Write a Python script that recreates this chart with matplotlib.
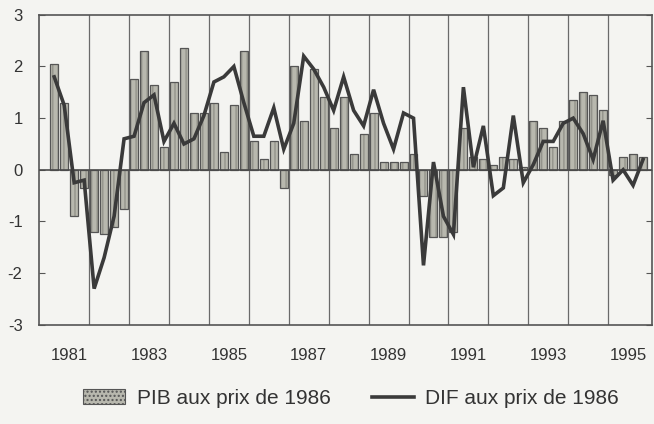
import numpy as np
import matplotlib.pyplot as plt
from matplotlib.patches import Patch
from matplotlib.lines import Line2D

plt.rcParams['font.family'] = ['Liberation Sans', 'DejaVu Sans']

years = list(range(1981, 1996))
year_labels = ['1981', '1983', '1985', '1987', '1989', '1991', '1993', '1995']

# croissance trimestrielle (%), 1981T1 - 1995T4
pib = [2.05, 1.3, -0.9, -0.35,
       -1.2, -1.25, -1.1, -0.75,
       1.75, 2.3, 1.65, 0.45,
       1.7, 2.35, 1.1, 1.1,
       1.3, 0.35, 1.25, 2.3,
       0.55, 0.2, 0.55, -0.35,
       2.0, 0.95, 1.95, 1.4,
       0.8, 1.4, 0.3, 0.7,
       1.1, 0.15, 0.15, 0.15,
       0.3, -0.5, -1.3, -1.3,
       -1.2, 0.8, 0.25, 0.2,
       0.1, 0.25, 0.2, 0.05,
       0.95, 0.8, 0.45, 0.95,
       1.35, 1.5, 1.45, 1.15,
       -0.1, 0.25, 0.3, 0.25]

dif = [1.8, 1.25, -0.25, -0.2,
       -2.3, -1.7, -0.9, 0.6,
       0.65, 1.3, 1.45, 0.55,
       0.9, 0.5, 0.6, 1.05,
       1.7, 1.8, 2.0, 1.3,
       0.65, 0.65, 1.2, 0.4,
       0.9, 2.2, 1.95, 1.6,
       1.15, 1.8, 1.15, 0.85,
       1.55, 0.9, 0.4, 1.1,
       1.0, -1.85, 0.15, -0.9,
       -1.25, 1.6, 0.05, 0.85,
       -0.5, -0.35, 1.05, -0.25,
       0.1, 0.55, 0.55, 0.9,
       1.0, 0.7, 0.2, 0.95,
       -0.2, 0.0, -0.3, 0.2]

x = np.arange(len(pib))
bg = '#f4f4f1'

fig = plt.figure(figsize=(6.54, 4.24), dpi=100, facecolor=bg)
ax = fig.add_axes([0.06, 0.234, 0.937, 0.731])
ax.set_facecolor(bg)

# separateurs annuels
for k in range(1, len(years)):
    ax.axvline(4 * k - 0.5, color='#6a6a6a', lw=0.9, zorder=1)

ax.bar(x, pib, width=0.8, color='#b8b8ae', edgecolor='#93938b', hatch='|||', lw=0, zorder=2)
ax.bar(x, pib, width=0.8, fill=False, edgecolor='#555555', lw=0.9, zorder=3)
ax.axhline(0, color='#4a4a4a', lw=1.2, zorder=3)
ax.plot(x, dif, color='#3a3a3a', lw=2.6, solid_joinstyle='miter', zorder=4)

ax.set_xlim(-1.5, 59.9)
ax.set_ylim(-3, 3)
ax.set_yticks([-3, -2, -1, 0, 1, 2, 3])
ax.set_yticklabels(['-3', '-2', '-1', '0', '1', '2', '3'], fontsize=12, color='#333333')
ax.set_xticks([8 * k + 1.5 for k in range(len(year_labels))])
ax.set_xticklabels(year_labels, fontsize=12, color='#333333')
ax.tick_params(axis='x', length=0, pad=17)
ax.tick_params(axis='y', direction='in', right=True, length=4, color='#555555', pad=12)
for s in ax.spines.values():
    s.set_color('#555555')
    s.set_linewidth(1.2)

handles = [Patch(facecolor='#b8b8ae', edgecolor='#555555', hatch='....', lw=0.8),
           Line2D([0], [0], color='#3a3a3a', lw=2.6)]
fig.legend(handles, ['PIB aux prix de 1986', 'DIF aux prix de 1986'],
           loc='center', bbox_to_anchor=(0.537, 0.06), ncol=2, frameon=False,
           fontsize=15, handlelength=2.0, handletextpad=0.55, columnspacing=2.0,
           labelcolor='#333333')

fig.savefig('out.png', dpi=100, facecolor=bg)
